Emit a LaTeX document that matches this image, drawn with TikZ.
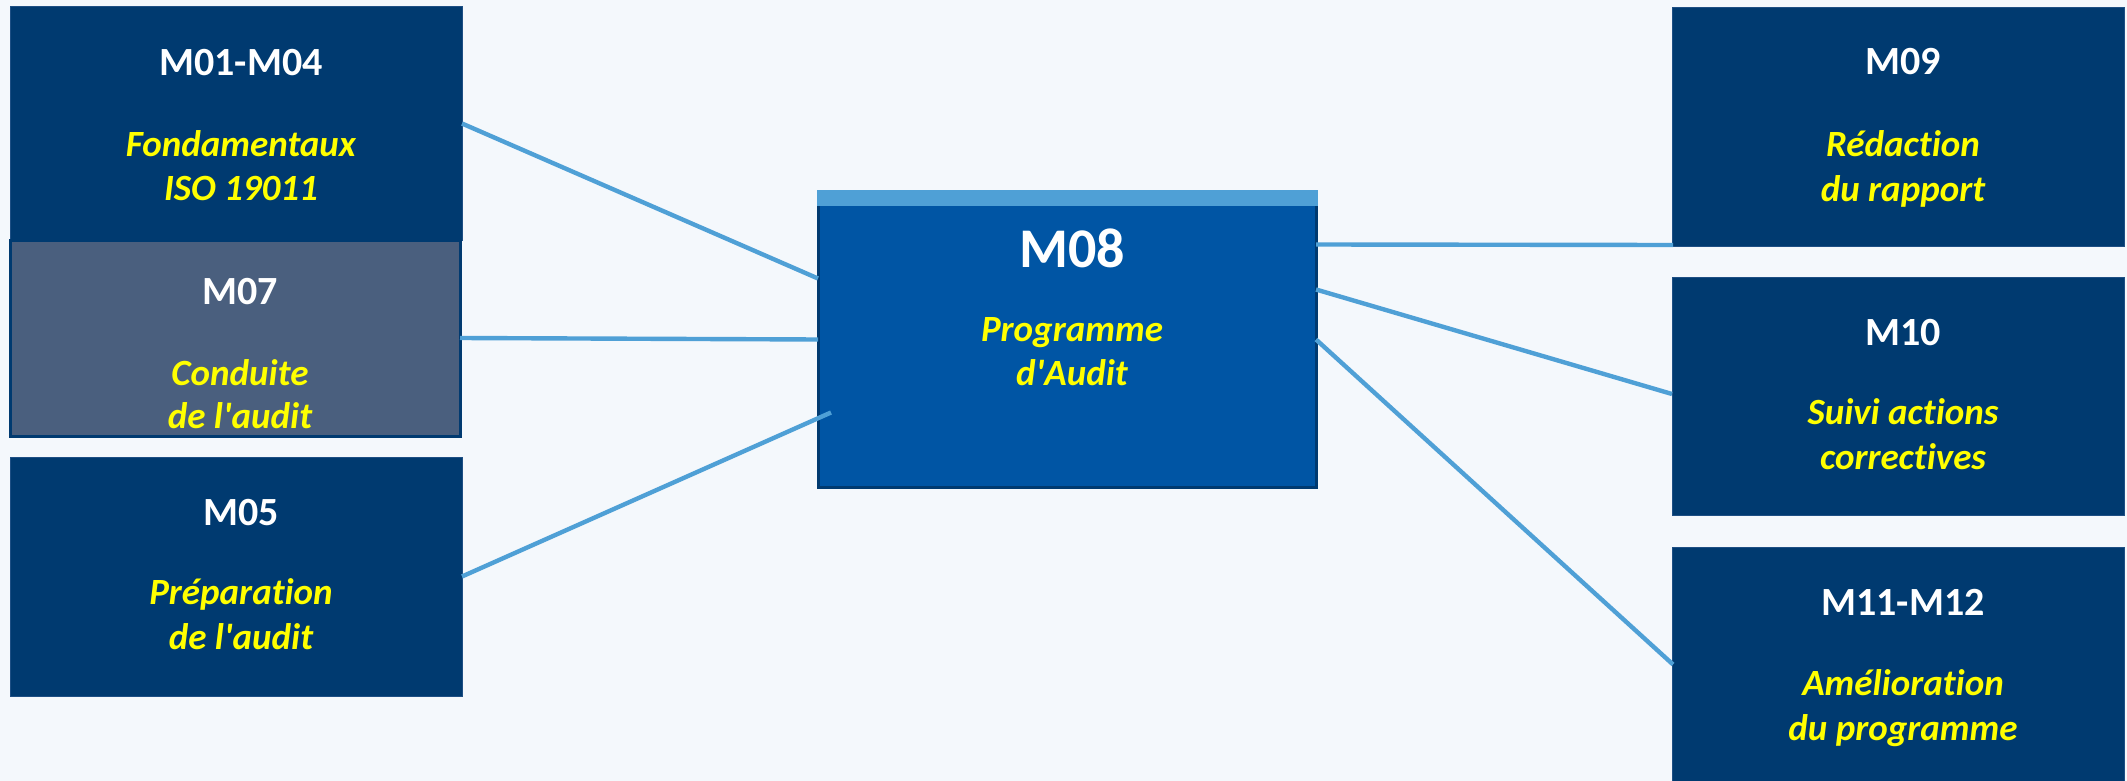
\documentclass[tikz,border=0pt]{standalone}
\usepackage{fontspec}
\setmainfont{Carlito}[Ligatures={TeX,NoCommon}]
\usetikzlibrary{fit,calc}
\definecolor{bg}{HTML}{F4F8FC}
\definecolor{navy}{HTML}{003A70}
\definecolor{navyedge}{HTML}{1E4F84}
\definecolor{slate}{HTML}{4A5F7E}
\definecolor{mid}{HTML}{0055A4}
\definecolor{sky}{HTML}{4FA0D6}
\definecolor{yel}{HTML}{FFFF00}
\begin{document}
\begin{tikzpicture}[x=0.5pt,y=-0.5pt,
  box/.style={fill=navy, draw=navyedge, line width=0.5pt, inner sep=0pt, outer sep=0pt},
  greybox/.style={fill=slate, draw=navy, line width=1.5pt, inner sep=0pt, outer sep=0pt},
  centralbox/.style={fill=mid, draw=navy, line width=1.5pt, inner sep=0pt, outer sep=0pt},
  link/.style={draw=sky, line width=2.2pt},
  ttl/.style={text=white, font=\bfseries\fontsize{20}{24}\selectfont, anchor=base, inner sep=0pt},
  bigttl/.style={text=white, font=\bfseries\fontsize{28}{32}\selectfont, anchor=base, inner sep=0pt},
  sub/.style={text=yel, font=\bfseries\itshape\fontsize{18.5}{22}\selectfont, anchor=base, inner sep=0pt}]
\useasboundingbox (0,0) rectangle (2127,781);
\clip (0,0) rectangle (2127,781);
\fill[bg] (0,0) rectangle (2127,781);

% boxes
\node[box, fit={(10,7) (462,240)}] (m0104) {};
\node[greybox, fit={(10,240) (460,436)}] (m07) {};
\node[box, fit={(10,457) (462,696)}] (m05) {};
\node[centralbox, fit={(818,192) (1316,487)}] (m08) {};
\fill[sky] ($(m08.north west)+(-1.5,-1.5)$) rectangle ($(m08.north east)+(1.5,14)$);
\node[box, fit={(1672,8) (2124,246)}] (m09) {};
\node[box, fit={(1672,277) (2124,515)}] (m10) {};
\node[box, fit={(1672,547) (2124,800)}] (m1112) {};

% connectors
\draw[link] (m0104.east) -- ($(m08.west)+(0,-61)$);
\draw[link] (m07.east) -- (m08.west);
\draw[link] (m05.east) -- ($(m08.west)+(13,73)$);
\draw[link] ($(m08.east)+(0,-95)$) -- ($(m09.south west)+(1,-1)$);
\draw[link] ($(m08.east)+(0,-50)$) -- ($(m10.west)+(0,-2)$);
\draw[link] (m08.east) -- ($(m1112.west)+(1,-9)$);

% texts
\node[ttl] (t0104) at (241,76) {M01-M04};
\node[sub] (s0104a) at (241,156) {Fondamentaux};
\node[sub] (s0104b) at (241,200) {ISO 19011};

\node[ttl] (t07) at (240,304) {M07};
\node[sub] (s07a) at (240,385) {Conduite};
\node[sub] (s07b) at (240,428) {de l\textquotesingle audit};

\node[ttl] (t05) at (241,525) {M05};
\node[sub] (s05a) at (241,604) {Préparation};
\node[sub] (s05b) at (241,649) {de l\textquotesingle audit};

\node[bigttl] (t08) at (1072,267) {M08};
\node[sub] (s08a) at (1072,341) {Programme};
\node[sub] (s08b) at (1072,385) {d\textquotesingle Audit};

\node[ttl] (t09) at (1903,75) {M09};
\node[sub] (s09a) at (1903,156) {Rédaction};
\node[sub] (s09b) at (1903,201) {du rapport};

\node[ttl] (t10) at (1903,345) {M10};
\node[sub] (s10a) at (1903,424) {Suivi actions};
\node[sub] (s10b) at (1903,469) {correctives};

\node[ttl] (t1112) at (1903,615) {M11-M12};
\node[sub] (s1112a) at (1903,695) {Amélioration};
\node[sub] (s1112b) at (1903,740) {du programme};
\end{tikzpicture}
\end{document}
